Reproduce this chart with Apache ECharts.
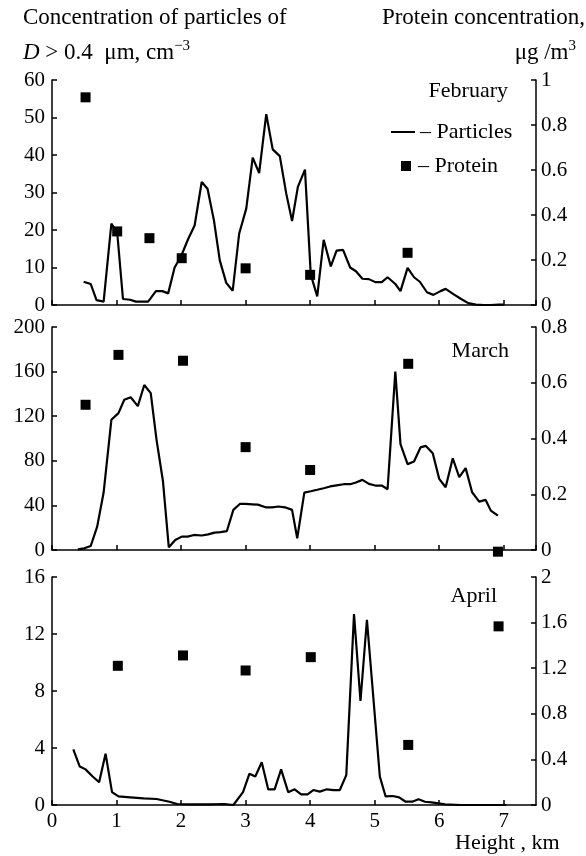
<!DOCTYPE html>
<html lang="en">

<head>
    <meta charset="UTF-8">
    <title>Particles and protein vs height</title>
    <script src="https://cdn.jsdelivr.net/npm/echarts/dist/echarts.min.js"></script>
    <style>
        body { margin: 0; background: #fff; }
    </style>
</head>

<body>
    <div id="main" style="width: 586px;height:856px;"></div>

    <script type="text/javascript">
        // data: height (km) and values
        const febHeight = [0.49, 0.60, 0.69, 0.80, 0.92, 1.01, 1.10, 1.21, 1.30, 1.49, 1.61, 1.71, 1.80, 1.90, 2.00, 2.11, 2.21, 2.32, 2.41, 2.51, 2.60, 2.70, 2.80, 2.90, 3.01, 3.11, 3.21, 3.32, 3.42, 3.53, 3.63, 3.72, 3.81, 3.92, 4.01, 4.11, 4.21, 4.32, 4.41, 4.51, 4.62, 4.71, 4.81, 4.91, 5.01, 5.11, 5.20, 5.32, 5.40, 5.51, 5.61, 5.70, 5.81, 5.91, 6.02, 6.10, 6.22, 6.34, 6.45, 6.57, 6.69, 6.80, 6.92, 7.00];
        const febParticles = [6.2, 5.6, 1.3, 0.9, 21.7, 19.4, 1.6, 1.4, 0.9, 0.9, 3.7, 3.7, 3.1, 10, 13, 17.6, 21.2, 32.8, 31, 22.5, 11.9, 5.9, 3.8, 19, 25.7, 39.3, 35.2, 50.9, 41.5, 39.7, 29.7, 22.4, 31.5, 36.1, 8.1, 2.3, 17.4, 10.3, 14.5, 14.7, 10, 9, 7, 6.9, 6.1, 6.1, 7.4, 5.6, 3.7, 9.9, 7.4, 6.2, 3.4, 2.7, 3.7, 4.3, 2.9, 1.6, 0.5, 0.1, 0, 0, 0.1, 0.1];
        const febProteinHeight = [0.52, 1.01, 1.51, 2.01, 3.0, 4.0, 5.51];
        const febProtein = [0.923, 0.327, 0.297, 0.208, 0.163, 0.134, 0.232];

        const marHeight = [0.40, 0.50, 0.60, 0.70, 0.80, 0.92, 1.03, 1.12, 1.22, 1.33, 1.43, 1.53, 1.62, 1.72, 1.81, 1.91, 2.01, 2.10, 2.20, 2.32, 2.42, 2.52, 2.61, 2.71, 2.81, 2.91, 3.0, 3.1, 3.19, 3.31, 3.41, 3.51, 3.61, 3.72, 3.80, 3.91, 4.01, 4.11, 4.21, 4.31, 4.41, 4.52, 4.62, 4.71, 4.81, 4.91, 5.01, 5.11, 5.20, 5.32, 5.40, 5.51, 5.61, 5.71, 5.79, 5.90, 6.0, 6.10, 6.21, 6.31, 6.41, 6.51, 6.62, 6.72, 6.80, 6.91];
        const marParticles = [0.6, 1.5, 3.6, 21, 51.5, 116.8, 122.8, 134.7, 137, 129, 148, 140.7, 98.8, 61.4, 2.4, 9, 12, 12, 13.5, 13, 14, 15.6, 16, 17, 36, 41.3, 41.3, 41, 40.7, 38.3, 38.3, 39, 38.3, 36, 10.5, 51.5, 52.7, 54, 55.4, 57, 58, 59, 59, 60.5, 62.9, 59.3, 57.8, 57.8, 54.5, 160, 95, 77, 79.3, 92, 93.4, 86.8, 63.8, 56.3, 82.3, 65.3, 73.4, 51.8, 43.4, 44.9, 35.3, 30.8];
        const marProteinHeight = [0.52, 1.03, 2.03, 3.0, 4.0, 5.52, 6.91];
        const marProtein = [0.521, 0.70, 0.679, 0.369, 0.287, 0.668, -0.006];

        const aprHeight = [0.33, 0.43, 0.52, 0.63, 0.73, 0.83, 0.93, 1.03, 1.21, 1.42, 1.62, 1.82, 1.94, 2.14, 2.43, 2.67, 2.81, 2.96, 3.06, 3.15, 3.25, 3.35, 3.45, 3.55, 3.66, 3.76, 3.86, 3.96, 4.05, 4.15, 4.26, 4.36, 4.46, 4.56, 4.68, 4.78, 4.88, 5.08, 5.17, 5.28, 5.38, 5.48, 5.58, 5.68, 5.78, 5.88, 5.99, 6.09, 6.34, 7.04];
        const aprParticles = [3.9, 2.7, 2.5, 2.0, 1.6, 3.6, 0.9, 0.6, 0.54, 0.47, 0.42, 0.23, 0.07, 0.05, 0.05, 0.07, 0, 0.9, 2.2, 2.0, 3.0, 1.1, 1.1, 2.5, 0.9, 1.1, 0.75, 0.75, 1.05, 0.94, 1.1, 1.05, 1.05, 2.1, 13.4, 7.3, 13.0, 2.0, 0.6, 0.63, 0.54, 0.23, 0.23, 0.4, 0.23, 0.19, 0.12, 0.05, 0, 0];
        const aprProteinHeight = [1.02, 2.03, 3.0, 4.01, 5.52, 6.92];
        const aprProtein = [1.221, 1.312, 1.180, 1.297, 0.527, 1.567];

        const months = ['February', 'March', 'April'];
        const leftMax = [60, 200, 16];
        const leftStep = [10, 40, 4];
        const rightMax = [1, 0.8, 2];
        const rightStep = [0.2, 0.2, 0.4];

        const font = 'Liberation Serif, Times New Roman, serif';
        const zip = (xs, ys) => xs.map((x, i) => [x, ys[i]]);

        const particleSets = [zip(febHeight, febParticles), zip(marHeight, marParticles), zip(aprHeight, aprParticles)];
        const proteinSets = [zip(febProteinHeight, febProtein), zip(marProteinHeight, marProtein), zip(aprProteinHeight, aprProtein)];

        const grids = [
            { left: 52, right: 50, top: 80, height: 225 },
            { left: 52, right: 50, top: 327, height: 223 },
            { left: 52, right: 50, top: 577, height: 228 }
        ];

        const axisLine = { show: true, lineStyle: { color: '#000', width: 1.5 } };
        const axisTick = { show: true, inside: true, length: 5, lineStyle: { color: '#000', width: 1.5 } };

        const xAxes = grids.map((g, i) => ({
            type: 'value', gridIndex: i, min: 0, max: 7.5, interval: 1,
            axisLine: axisLine, axisTick: axisTick, splitLine: { show: false },
            axisLabel: { show: i === 2, showMaxLabel: false, margin: 6, color: '#000', fontFamily: font, fontSize: 21 }
        }));

        const yAxes = [];
        grids.forEach((g, i) => {
            yAxes.push({
                type: 'value', gridIndex: i, position: 'left', min: 0, max: leftMax[i], interval: leftStep[i],
                axisLine: axisLine, axisTick: axisTick, splitLine: { show: false },
                axisLabel: { margin: 7, color: '#000', fontFamily: font, fontSize: 21 }
            });
            yAxes.push({
                type: 'value', gridIndex: i, position: 'right', min: 0, max: rightMax[i], interval: rightStep[i],
                axisLine: axisLine, axisTick: axisTick, splitLine: { show: false },
                axisLabel: { margin: 5, color: '#000', fontFamily: font, fontSize: 21 }
            });
        });

        const series = [];
        grids.forEach((g, i) => {
            series.push({
                name: 'Particles', type: 'line', xAxisIndex: i, yAxisIndex: i * 2,
                symbol: 'none', data: particleSets[i], animation: false,
                lineStyle: { color: '#000', width: 2.2 }, itemStyle: { color: '#000' }
            });
            series.push({
                name: 'Protein', type: 'scatter', xAxisIndex: i, yAxisIndex: i * 2 + 1,
                symbol: 'rect', symbolSize: 10, clip: false, data: proteinSets[i], animation: false,
                itemStyle: { color: '#000', opacity: 1 }
            });
        });

        const monthY = [92, 352, 597];
        const monthRight = [508, 509, 497];
        const texts = months.map((m, i) => ({
            type: 'text', right: 586 - monthRight[i], top: monthY[i] - 12,
            style: { text: m, font: '22px ' + font, fill: '#000' }
        }));

        const sup = { fontSize: 15, fontFamily: font, verticalAlign: 'top', lineHeight: 28, fill: '#000' };
        texts.push(
            { type: 'text', left: 23, top: 6, style: { text: 'Concentration of particles of', font: '23px ' + font, fill: '#000' } },
            {
                type: 'text', left: 23, top: 39, style: {
                    text: '{i|D} > 0.4  μm, cm{s|−3}', font: '23px ' + font, fill: '#000',
                    rich: { i: { fontStyle: 'italic', fontSize: 23, fontFamily: font, lineHeight: 28 }, s: sup }
                }
            },
            { type: 'text', right: 1, top: 6, style: { text: 'Protein concentration,', font: '23px ' + font, fill: '#000' } },
            {
                type: 'text', right: 10, top: 39, style: {
                    text: 'μg /m{s|3}', font: '23px ' + font, fill: '#000',
                    rich: { s: sup }
                }
            },
            { type: 'text', left: 455, top: 832, style: { text: 'Height , km', font: '22px ' + font, fill: '#000' } }
        );

        var myChart = echarts.init(document.getElementById('main'));
        option = {
            animation: false,
            backgroundColor: '#fff',
            grid: grids,
            xAxis: xAxes,
            yAxis: yAxes,
            legend: [
                {
                    data: [{ name: 'Particles', icon: 'rect' }], left: 386, top: 116,
                    itemWidth: 24, itemHeight: 2, selectedMode: false, formatter: '– {name}',
                    textStyle: { color: '#000', fontFamily: font, fontSize: 22 }
                },
                {
                    data: [{ name: 'Protein', icon: 'path://M0,0h10v10h-10z' }], left: 396, top: 150,
                    itemWidth: 14, itemHeight: 10, selectedMode: false, formatter: '– {name}',
                    textStyle: { color: '#000', fontFamily: font, fontSize: 22 }
                }
            ],
            graphic: texts,
            series: series
        };

        myChart.setOption(option);
    </script>
</body>

</html>
